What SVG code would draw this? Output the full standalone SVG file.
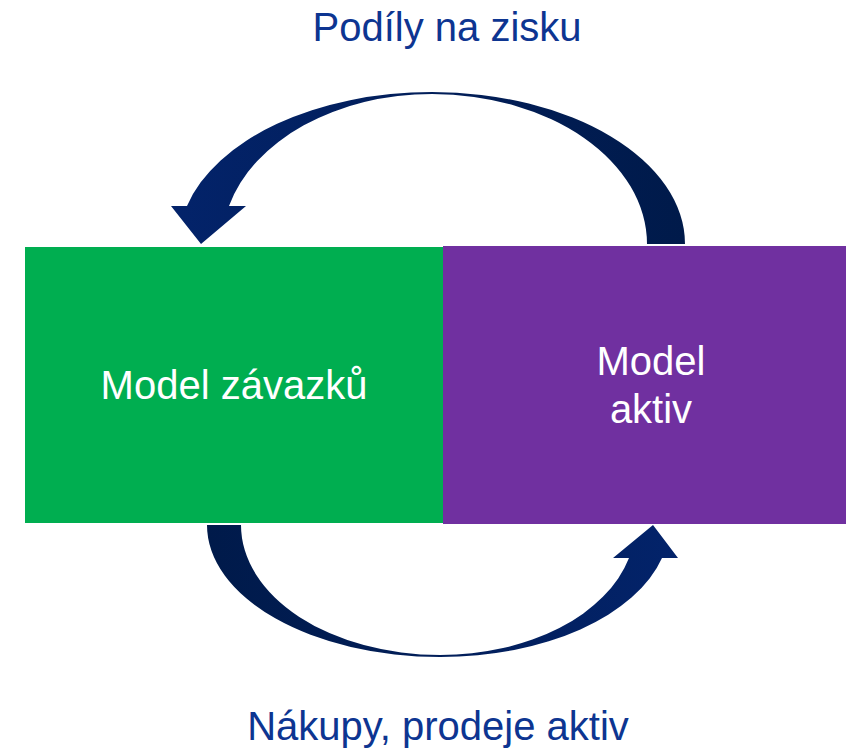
<svg xmlns="http://www.w3.org/2000/svg" width="846" height="752" viewBox="0 0 846 752">
<style>
.lbl{font-family:"Liberation Sans",Arial,sans-serif;font-size:40px;fill:#0D3591;text-anchor:middle}
.node{font-family:"Liberation Sans",Arial,sans-serif;font-size:40px;fill:#FFFFFF;text-anchor:middle}
</style>
<defs>
<linearGradient id="gTop" x1="685" y1="0" x2="171" y2="0" gradientUnits="userSpaceOnUse">
<stop offset="0" stop-color="#001A4A"/><stop offset="1" stop-color="#03236A"/>
</linearGradient>
<linearGradient id="gBot" x1="207" y1="0" x2="678" y2="0" gradientUnits="userSpaceOnUse">
<stop offset="0" stop-color="#001A4A"/><stop offset="1" stop-color="#03236A"/>
</linearGradient>
</defs>
<rect width="846" height="752" fill="#FFFFFF"/>
<g id="liabilities">
<rect x="25" y="247" width="418" height="276" fill="#00AE50"/>
<text class="node" x="234" y="399">Model závazků</text>
</g>
<g id="assets">
<rect x="443" y="246" width="403" height="278" fill="#7030A0"/>
<text class="node" x="651" y="375">Model</text>
<text class="node" x="651" y="423">aktiv</text>
</g>
<g id="connectors">
<path d="M 685 244 A 253 152 0 0 0 432 92 A 253 152 0 0 0 187 206 L 171 206 L 201 244 L 246 206 L 229 206 A 210 150 0 0 1 432 94 A 215 150 0 0 1 647 244 Z" fill="url(#gTop)"/>
<path d="M 207 525 A 233 132 0 0 0 440 657 A 229 132 0 0 0 662 558 L 678 558 L 653 525 L 613 558 L 629 558 A 195 130 0 0 1 440 655 A 199 130 0 0 1 241 525 Z" fill="url(#gBot)"/>
<text class="lbl" x="447" y="41">Podíly na zisku</text>
<text class="lbl" x="438" y="740">Nákupy, prodeje aktiv</text>
</g>
</svg>
